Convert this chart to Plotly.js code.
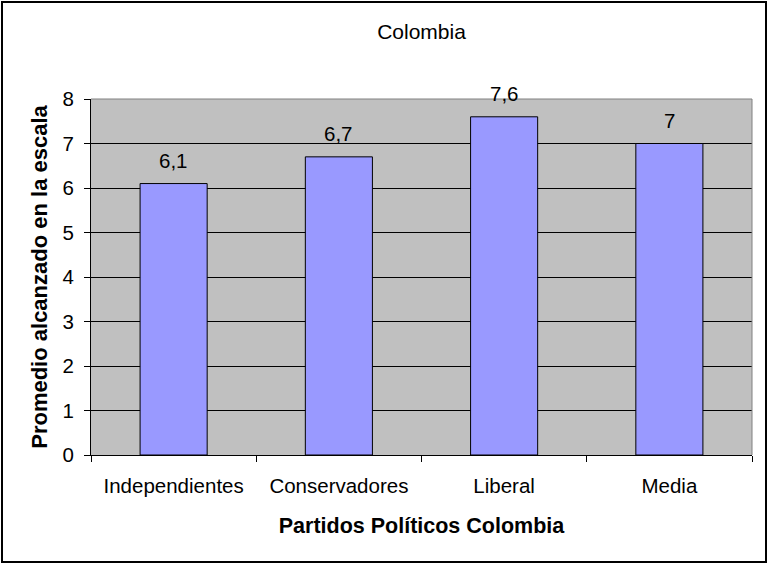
<!DOCTYPE html>
<html>
<head>
<meta charset="utf-8">
<script src="https://cdn.plot.ly/plotly-3.0.1.min.js"></script>
<style>
  html, body { margin: 0; padding: 0; background: #ffffff; }
  #chart { position: absolute; left: 0; top: 0; width: 768px; height: 564px; }
  #frame { position: absolute; left: 1px; top: 1px; width: 766px; height: 562px;
           box-sizing: border-box; border: 2px solid #000; pointer-events: none; }
</style>
</head>
<body>
<div id="chart"></div>
<div id="frame"></div>
<script>
const categories = ["Independientes", "Conservadores", "Liberal", "Media"];
const values = [6.1, 6.7, 7.6, 7.0];
const yTicks = [0, 1, 2, 3, 4, 5, 6, 7, 8];
const chartTitle = "Colombia";
const xTitle = "Partidos Políticos Colombia";
const yTitle = "Promedio alcanzado en la escala";

const FONT = "Liberation Sans, Arial, sans-serif";

const labelText = values.map(v => String(v).replace('.', ','));

const trace = {
  type: 'bar',
  x: categories,
  y: values,
  marker: { color: '#9999ff', line: { color: '#000000', width: 1 } },
  hoverinfo: 'skip'
};

const annotations = categories.map((c, i) => ({
  x: c, y: values[i], xref: 'x', yref: 'y',
  text: labelText[i], showarrow: false,
  yanchor: 'middle', yshift: 23,
  font: { family: FONT, size: 20.5, color: '#000' }
}));

const layout = {
  width: 768, height: 564,
  margin: { l: 91, r: 16, t: 99, b: 109 },
  paper_bgcolor: '#ffffff',
  plot_bgcolor: '#c0c0c0',
  font: { family: FONT, color: '#000' },
  showlegend: false,
  bargap: 0.594,
  title: { text: chartTitle, x: 0.5, xanchor: 'center', xref: 'paper',
           y: 1 - 32/564, yanchor: 'middle', yref: 'container',
           font: { family: FONT, size: 21, color: '#000' } },
  xaxis: {
    type: 'category',
    tickson: 'boundaries',
    ticks: 'outside', ticklen: 6, tickcolor: '#000', tickwidth: 1,
    ticklabelstandoff: 12,
    showline: true, linecolor: '#000', linewidth: 1,
    showgrid: false, zeroline: false,
    tickfont: { family: FONT, size: 20.5, color: '#000' },
    title: { text: xTitle, standoff: 22,
             font: { family: FONT, size: 21.5, color: '#000', weight: 'bold' } },
    automargin: false
  },
  yaxis: {
    range: [0, 8], tickvals: yTicks, ticktext: yTicks.map(String),
    ticks: 'outside', ticklen: 6, tickcolor: '#000', tickwidth: 1,
    ticklabelstandoff: 6,
    showline: true, linecolor: '#000', linewidth: 1,
    showgrid: true, gridcolor: '#000', gridwidth: 1,
    zeroline: false,
    tickfont: { family: FONT, size: 20.5, color: '#000' },
    title: { text: yTitle, standoff: 8,
             font: { family: FONT, size: 22, color: '#000', weight: 'bold' } },
    automargin: false
  },
  shapes: [
    { type: 'line', xref: 'paper', yref: 'paper', x0: 0, x1: 1, y0: 1, y1: 1,
      line: { color: '#808080', width: 1 }, layer: 'above' },
    { type: 'line', xref: 'paper', yref: 'paper', x0: 1, x1: 1, y0: 0, y1: 1,
      line: { color: '#808080', width: 1 }, layer: 'above' }
  ],
  annotations: annotations
};

Plotly.newPlot('chart', [trace], layout, { displayModeBar: false, staticPlot: true });
</script>
</body>
</html>
